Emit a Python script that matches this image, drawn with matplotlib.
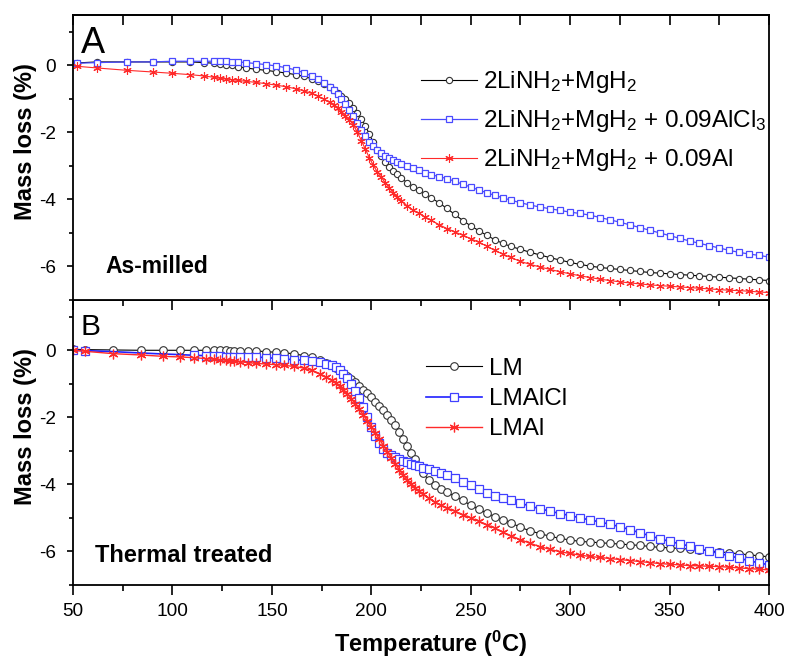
import matplotlib
matplotlib.use("Agg")
import matplotlib.pyplot as plt
from matplotlib.ticker import MultipleLocator

plt.rcParams['font.family'] = ['Liberation Sans', 'DejaVu Sans']
plt.rcParams['mathtext.fontset'] = 'custom'
plt.rcParams['mathtext.rm'] = 'Liberation Sans'
plt.rcParams['mathtext.it'] = 'Liberation Sans'
plt.rcParams['mathtext.bf'] = 'Liberation Sans:bold'
plt.rcParams['mathtext.default'] = 'regular'
plt.rcParams['axes.unicode_minus'] = False

# ---------------- data: panel A (as-milled) ----------------
temp_a = [52, 62, 77, 90, 100, 109, 116, 121, 124, 127,
          130, 133, 137, 142, 147, 152, 157, 162, 166, 170,
          173, 176, 179, 181, 183, 185, 187, 189, 191, 193,
          195, 197, 199, 201, 203, 205, 207, 209, 211, 213,
          215, 218, 221, 224, 227, 230, 234, 238, 242, 246,
          250, 254, 258, 262, 266, 270, 275, 280, 285, 290,
          295, 300, 305, 310, 315, 320, 325, 330, 335, 340,
          345, 350, 355, 360, 365, 370, 375, 380, 385, 390,
          395, 400]
lm_a = [0.07, 0.10, 0.10, 0.10, 0.10, 0.10, 0.08, 0.06, 0.04, 0.02,
        0.00, -0.04, -0.08, -0.12, -0.15, -0.19, -0.23, -0.28, -0.33, -0.40,
        -0.47, -0.56, -0.66, -0.74, -0.82, -0.92, -1.02, -1.14, -1.27, -1.42,
        -1.60, -1.80, -2.05, -2.30, -2.52, -2.72, -2.88, -3.02, -3.14, -3.25,
        -3.36, -3.50, -3.62, -3.73, -3.84, -3.95, -4.10, -4.27, -4.45, -4.63,
        -4.79, -4.93, -5.07, -5.20, -5.31, -5.40, -5.49, -5.58, -5.66, -5.74,
        -5.81, -5.88, -5.94, -5.99, -6.03, -6.06, -6.09, -6.12, -6.15, -6.18,
        -6.20, -6.22, -6.24, -6.26, -6.28, -6.30, -6.32, -6.34, -6.36, -6.38,
        -6.40, -6.42]
lmalcl_a = [0.06, 0.08, 0.10, 0.10, 0.12, 0.12, 0.12, 0.12, 0.12, 0.12,
            0.11, 0.10, 0.08, 0.05, 0.02, -0.02, -0.07, -0.14, -0.22, -0.32,
            -0.41, -0.52, -0.64, -0.74, -0.86, -1.00, -1.16, -1.33, -1.52, -1.72,
            -1.94, -2.12, -2.28, -2.42, -2.54, -2.63, -2.70, -2.77, -2.83, -2.88,
            -2.93, -3.00, -3.06, -3.13, -3.20, -3.26, -3.32, -3.38, -3.46, -3.55,
            -3.63, -3.72, -3.80, -3.88, -3.95, -4.02, -4.10, -4.17, -4.23, -4.28,
            -4.33, -4.38, -4.42, -4.47, -4.54, -4.61, -4.68, -4.76, -4.84, -4.92,
            -5.00, -5.08, -5.16, -5.24, -5.31, -5.38, -5.45, -5.52, -5.58, -5.63,
            -5.67, -5.72]
lmal_a = [-0.03, -0.08, -0.15, -0.20, -0.24, -0.28, -0.32, -0.36, -0.39, -0.41,
          -0.43, -0.45, -0.48, -0.51, -0.55, -0.59, -0.64, -0.70, -0.76, -0.84,
          -0.92, -1.01, -1.11, -1.19, -1.28, -1.38, -1.50, -1.63, -1.78, -2.00,
          -2.25, -2.50, -2.76, -2.98, -3.18, -3.34, -3.50, -3.66, -3.80, -3.93,
          -4.04, -4.19, -4.32, -4.42, -4.52, -4.62, -4.75, -4.87, -4.97, -5.07,
          -5.17, -5.28, -5.39, -5.52, -5.63, -5.73, -5.85, -5.94, -6.02, -6.09,
          -6.16, -6.22, -6.28, -6.33, -6.38, -6.42, -6.46, -6.49, -6.52, -6.55,
          -6.57, -6.59, -6.61, -6.63, -6.65, -6.67, -6.69, -6.71, -6.72, -6.74,
          -6.76, -6.78]

# ---------------- data: panel B (thermal treated) ----------------
temp_b = [50, 56, 70, 84, 95, 104, 111, 117, 121, 124,
          127, 129, 131, 134, 138, 142, 147, 152, 156, 161,
          166, 170, 174, 177, 180, 182, 184, 186, 188, 190,
          192, 194, 196, 198, 200, 202, 204, 206, 208, 210,
          212, 214, 216, 218, 220, 222, 224, 226, 229, 232,
          235, 238, 242, 246, 250, 254, 258, 262, 266, 270,
          275, 280, 285, 290, 295, 300, 305, 310, 315, 320,
          325, 330, 335, 340, 345, 350, 355, 360, 365, 370,
          375, 380, 385, 390, 395, 400]
lm_b = [0.03, 0.02, 0.01, 0.00, 0.00, 0.00, 0.00, 0.00, 0.00, 0.00,
        0.00, -0.01, -0.01, -0.01, -0.02, -0.02, -0.04, -0.06, -0.08, -0.10,
        -0.16, -0.21, -0.30, -0.37, -0.45, -0.52, -0.60, -0.68, -0.77, -0.87,
        -0.96, -1.06, -1.17, -1.28, -1.40, -1.53, -1.66, -1.79, -1.93, -2.08,
        -2.24, -2.43, -2.65, -2.86, -3.06, -3.25, -3.45, -3.66, -3.88, -4.03,
        -4.15, -4.24, -4.35, -4.48, -4.62, -4.74, -4.85, -4.96, -5.05, -5.14,
        -5.28, -5.39, -5.47, -5.55, -5.61, -5.66, -5.70, -5.72, -5.74, -5.76,
        -5.78, -5.80, -5.82, -5.85, -5.88, -5.89, -5.91, -5.93, -5.95, -5.98,
        -6.01, -6.04, -6.07, -6.10, -6.13, -6.16]
lmalcl_b = [0.00, -0.01, -0.04, -0.08, -0.11, -0.13, -0.15, -0.16, -0.17, -0.18,
            -0.19, -0.19, -0.20, -0.20, -0.20, -0.20, -0.22, -0.24, -0.26, -0.28,
            -0.30, -0.32, -0.35, -0.40, -0.45, -0.50, -0.60, -0.70, -0.84, -1.00,
            -1.20, -1.42, -1.69, -2.00, -2.30, -2.55, -2.78, -2.95, -3.05, -3.12,
            -3.18, -3.24, -3.29, -3.34, -3.38, -3.42, -3.46, -3.50, -3.55, -3.60,
            -3.66, -3.72, -3.81, -3.92, -4.03, -4.15, -4.25, -4.34, -4.41, -4.48,
            -4.56, -4.65, -4.73, -4.80, -4.87, -4.93, -5.00, -5.06, -5.12, -5.19,
            -5.26, -5.35, -5.44, -5.53, -5.62, -5.70, -5.77, -5.84, -5.92, -5.99,
            -6.06, -6.13, -6.20, -6.28, -6.34, -6.40]
lmal_b = [0.00, -0.03, -0.10, -0.14, -0.18, -0.20, -0.22, -0.25, -0.27, -0.28,
          -0.30, -0.31, -0.32, -0.34, -0.37, -0.39, -0.41, -0.43, -0.45, -0.48,
          -0.53, -0.60, -0.70, -0.79, -0.89, -0.97, -1.07, -1.18, -1.31, -1.45,
          -1.60, -1.76, -1.93, -2.10, -2.28, -2.46, -2.64, -2.84, -3.02, -3.20,
          -3.38, -3.56, -3.72, -3.87, -4.00, -4.11, -4.21, -4.30, -4.42, -4.53,
          -4.62, -4.70, -4.80, -4.90, -5.00, -5.10, -5.20, -5.30, -5.42, -5.53,
          -5.65, -5.76, -5.86, -5.94, -6.01, -6.06, -6.11, -6.15, -6.18, -6.21,
          -6.24, -6.27, -6.30, -6.33, -6.36, -6.38, -6.40, -6.42, -6.43, -6.44,
          -6.45, -6.47, -6.49, -6.51, -6.53, -6.55]

labels_a = ['2LiNH$_2$+MgH$_2$', '2LiNH$_2$+MgH$_2$ + 0.09AlCl$_3$',
            '2LiNH$_2$+MgH$_2$ + 0.09Al']
labels_b = ['LM', 'LMAlCl', 'LMAl']

x_range = (50, 400)
y_range = (-7, 1.5)

BLACK = '#000000'
BLUE_A = '#4a4aff'
BLUE_B = '#2020ff'
RED = '#ff2a2a'
ASTER = (6, 2, 0)

fig = plt.figure(figsize=(7.87, 6.57), dpi=100)
ax2 = fig.add_axes([0.0928, 0.1096, 0.8844, 0.4338])
ax1 = fig.add_axes([0.0928, 0.5434, 0.8844, 0.4338])
ax2.patch.set_visible(False)


def style_axis(ax):
    ax.set_xlim(*x_range)
    ax.set_ylim(*y_range)
    ax.xaxis.set_major_locator(MultipleLocator(50))
    ax.xaxis.set_minor_locator(MultipleLocator(25))
    ax.yaxis.set_major_locator(MultipleLocator(2))
    ax.yaxis.set_minor_locator(MultipleLocator(1))
    for s in ax.spines.values():
        s.set_linewidth(1.3)
    ax.tick_params(axis='x', which='both', direction='out', top=False,
                   width=1.2, labelsize=13.7, pad=6)
    ax.tick_params(axis='x', which='major', length=7)
    ax.tick_params(axis='x', which='minor', length=4.5)
    ax.tick_params(axis='y', which='both', direction='out', right=False,
                   width=1.2, labelsize=13.7, pad=8)
    ax.tick_params(axis='y', which='major', length=4.5)
    ax.tick_params(axis='y', which='minor', length=3.2)
    ax.set_ylabel('Mass loss (%)', fontsize=17, fontweight='bold')
    ax.yaxis.set_label_coords(-0.052, 0.556)


style_axis(ax1)
style_axis(ax2)
ax1.tick_params(axis='x', labelbottom=False)

sec = ax1.secondary_xaxis('top')
sec.xaxis.set_major_locator(MultipleLocator(50))
sec.xaxis.set_minor_locator(MultipleLocator(25))
sec.tick_params(axis='x', which='both', direction='in', labeltop=False, width=1.2)
sec.tick_params(axis='x', which='major', length=7)
sec.tick_params(axis='x', which='minor', length=7)
sec.spines['top'].set_linewidth(1.3)

# ---- panel A curves ----
ax1.plot(temp_a, lm_a, color=BLACK, lw=0.8, marker='o', ms=4.5,
         mfc='white', mec='#333333', mew=0.8, label=labels_a[0])
ax1.plot(temp_a, lmalcl_a, color=BLUE_A, lw=0.9, marker='s', ms=4.3,
         mfc='white', mec=BLUE_A, mew=0.9, label=labels_a[1])
ax1.plot(temp_a, lmal_a, color=RED, lw=0.8, marker=ASTER, ms=6,
         mec=RED, mew=0.8, label=labels_a[2])

# ---- panel B curves ----
ax2.plot(temp_b, lm_b, color=BLACK, lw=0.8, marker='o', ms=5.5,
         mfc='white', mec='#333333', mew=0.8, label=labels_b[0])
mk_b = [0, 1] + list(range(6, len(temp_b)))
ax2.plot(temp_b, lmalcl_b, color=BLUE_B, lw=1.2, marker='s', ms=5.2,
         mfc='white', mec='#4040ff', mew=0.9, markevery=mk_b, label=labels_b[1])
ax2.plot(temp_b, lmal_b, color=RED, lw=1.0, marker=ASTER, ms=7,
         mec=RED, mew=0.9, label=labels_b[2])

leg1 = ax1.legend(loc='upper left', bbox_to_anchor=(0.5, 0.81), frameon=False,
                  fontsize=17.5, numpoints=1, handlelength=2.3,
                  handletextpad=0.25, labelspacing=0.54, borderpad=0,
                  borderaxespad=0)
leg2 = ax2.legend(loc='upper left', bbox_to_anchor=(0.507, 0.797), frameon=False,
                  fontsize=17.5, numpoints=1, handlelength=2.3,
                  handletextpad=0.3, labelspacing=0.34, borderpad=0,
                  borderaxespad=0)

ax1.text(0.011, 0.867, 'A', transform=ax1.transAxes, fontsize=26,
         ha='left', va='baseline')
ax2.text(0.011, 0.878, 'B', transform=ax2.transAxes, fontsize=21.5,
         ha='left', va='baseline')
ax1.text(0.046, 0.095, 'As-milled', transform=ax1.transAxes, fontsize=16.5,
         fontweight='bold', ha='left', va='baseline')
ax2.text(0.032, 0.082, 'Thermal treated', transform=ax2.transAxes,
         fontsize=17, fontweight='bold', ha='left', va='baseline')

ax2.set_xlabel(r'Temperature ($^{0}$C)', fontsize=17, fontweight='bold')
ax2.xaxis.set_label_coords(0.514, -0.152)

fig.savefig('out.png', dpi=100)
